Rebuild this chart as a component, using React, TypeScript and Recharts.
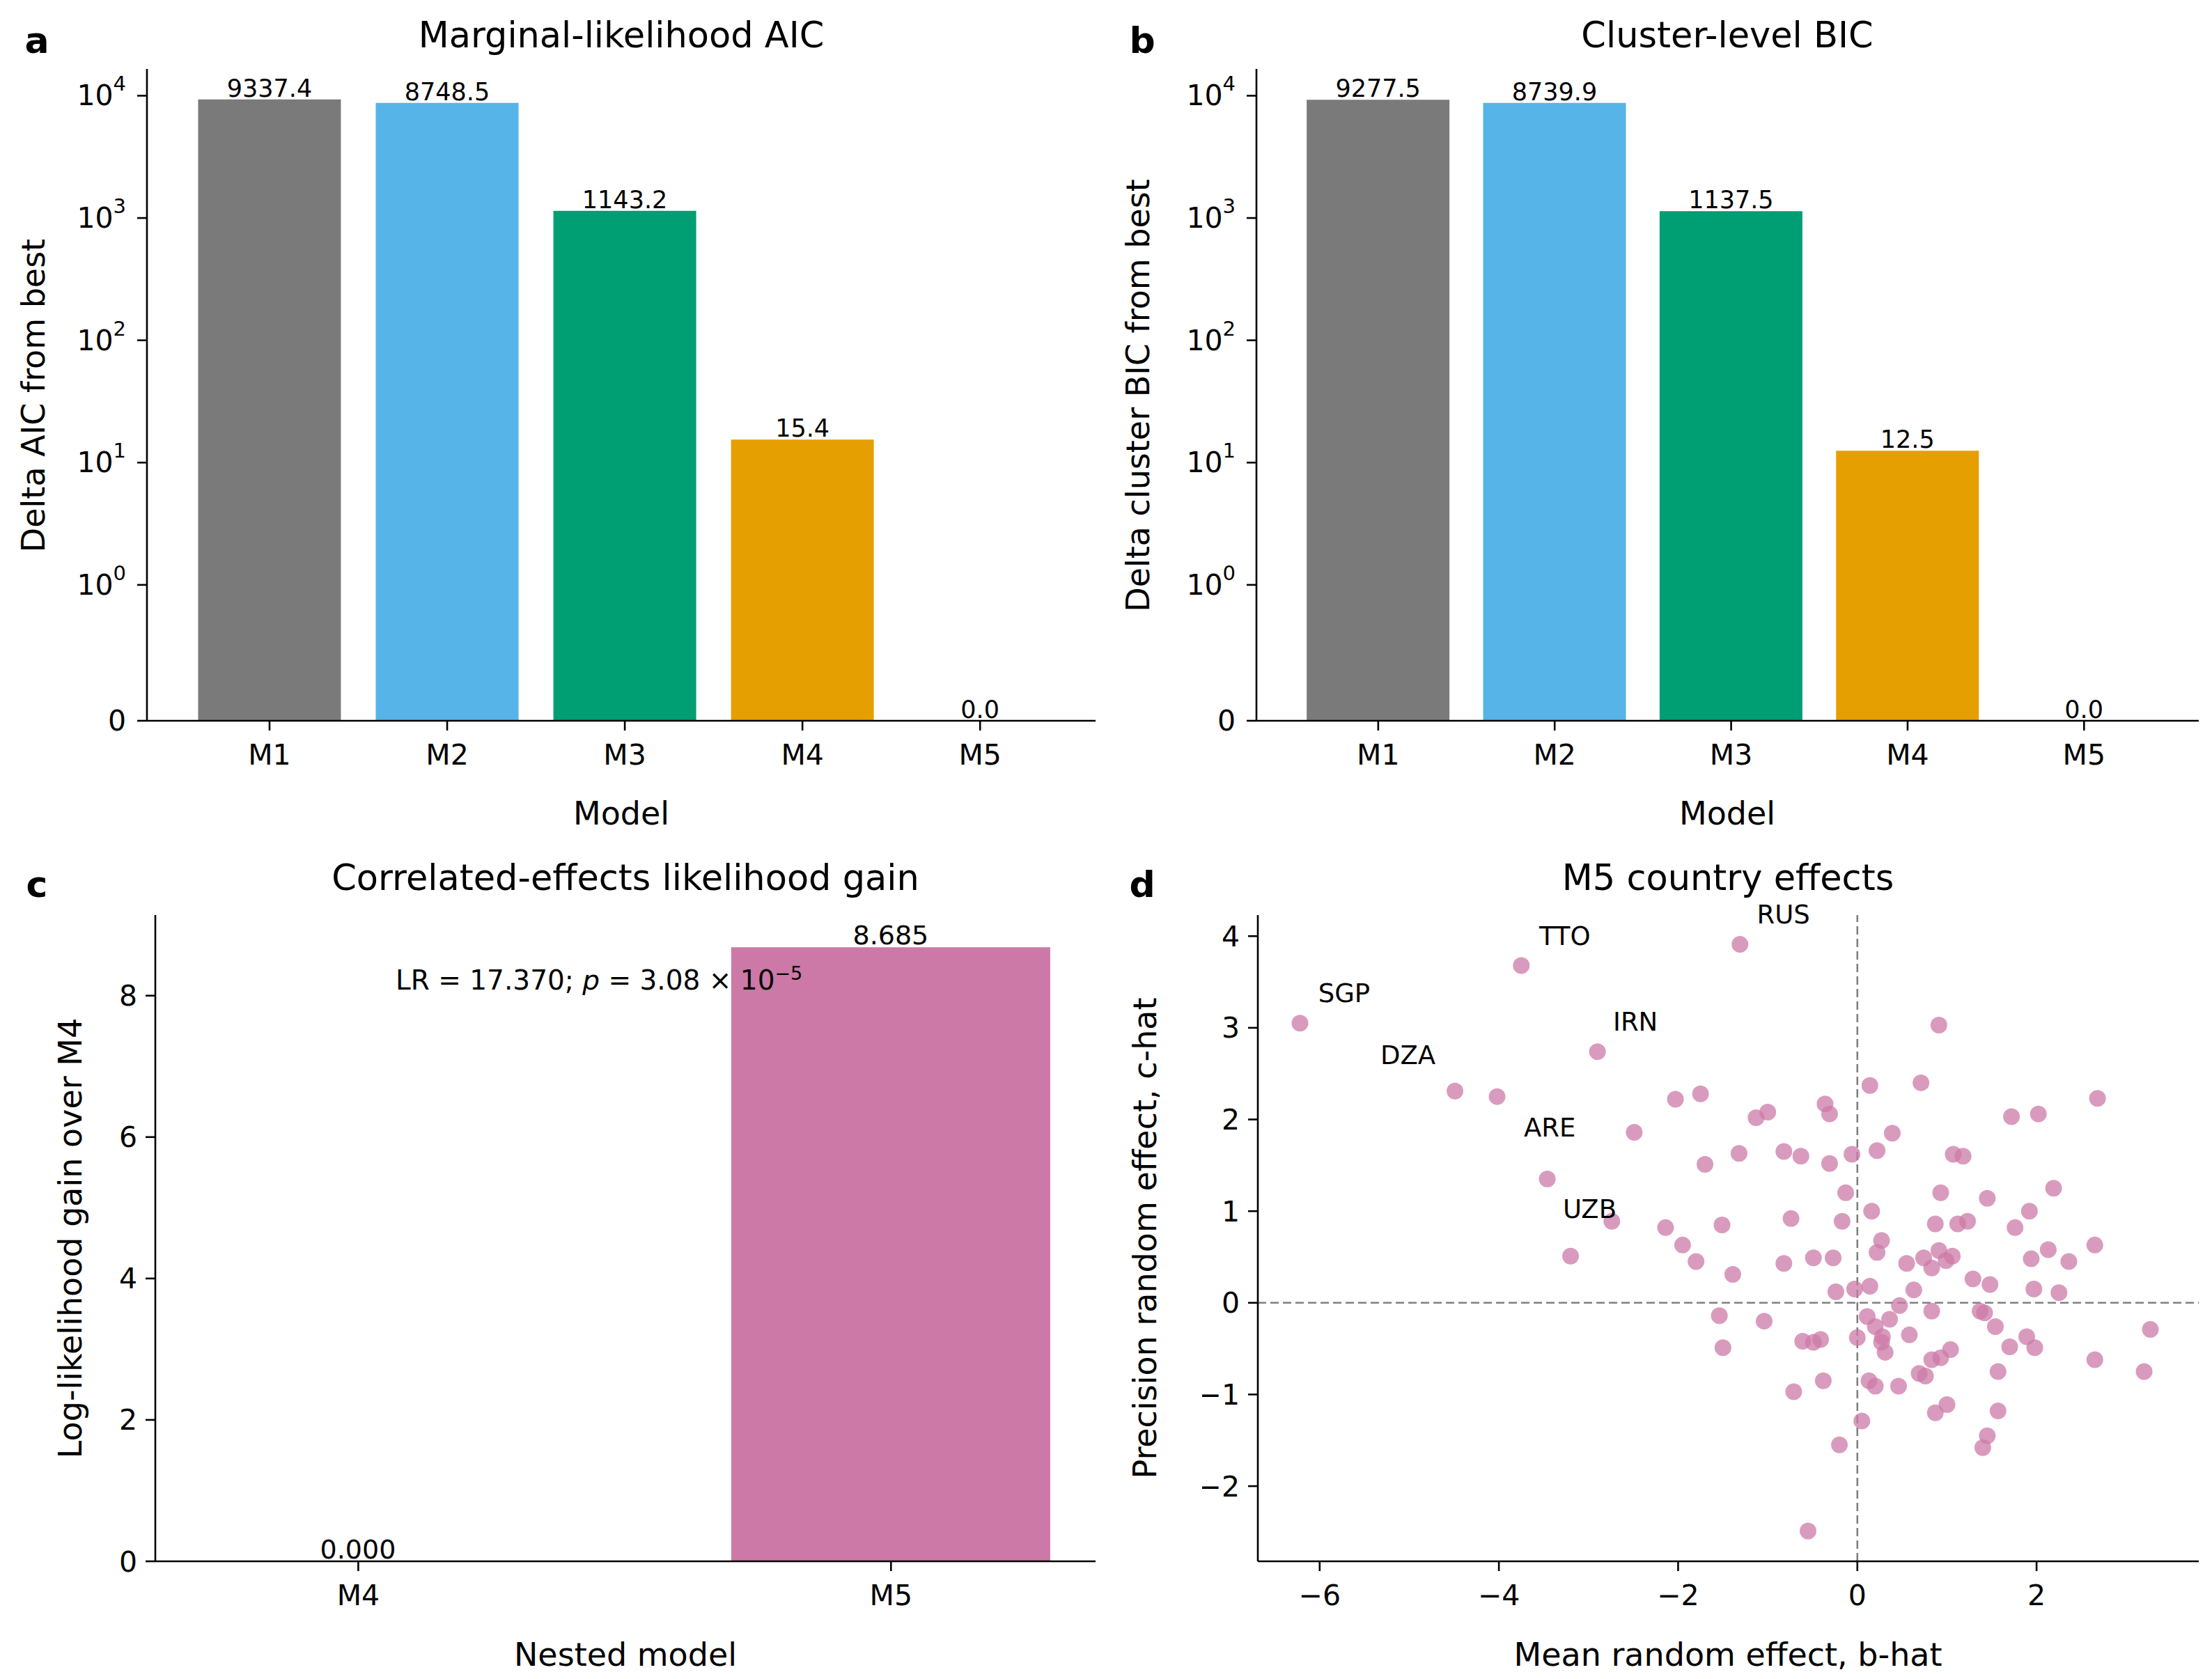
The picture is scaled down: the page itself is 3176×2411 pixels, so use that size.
import React from "react";
import {
  BarChart, Bar, XAxis, YAxis, Cell, LabelList,
  ScatterChart, Scatter, ReferenceLine,
} from "recharts";

const FONT = "DejaVu Sans";
const models = ["M1", "M2", "M3", "M4", "M5"];
const aicValues = [9337.4, 8748.5, 1143.2, 15.4, 0.0];
const bicValues = [9277.5, 8739.9, 1137.5, 12.5, 0.0];
const modelColors = ["#7a7a7a", "#56b4e9", "#009e73", "#e69f00", "#cc79a7"];
const logTicks = [0, 1, 10, 100, 1000, 10000];

const nestedModels = ["M4", "M5"];
const gainValues = [0.0, 8.685];

// [b-hat, c-hat, label]
const countryEffects: [number, number, string?][] = [
  [-6.22, 3.05, "SGP"], [-3.75, 3.68, "TTO"], [-1.31, 3.91, "RUS"], [-2.9, 2.74, "IRN"],
  [-4.49, 2.31, "DZA"], [-4.02, 2.25], [-3.46, 1.35, "ARE"], [-2.74, 0.89],
  [-3.2, 0.51, "UZB"], [-2.49, 1.86], [-2.03, 2.22], [-1.75, 2.28], [-1.7, 1.51],
  [-2.14, 0.82], [-1.95, 0.63], [-1.8, 0.45], [-1.51, 0.85], [-1.54, -0.14],
  [-1.5, -0.49], [-1.39, 0.31], [-1.32, 1.63], [-1.13, 2.02], [-1.0, 2.08],
  [-1.04, -0.2], [-0.82, 1.65], [-0.63, 1.6], [-0.74, 0.92], [-0.82, 0.43],
  [-0.71, -0.97], [-0.61, -0.42], [-0.49, 0.49], [-0.49, -0.43], [-0.41, -0.4],
  [-0.36, 2.17], [-0.31, 1.52], [-0.27, 0.49], [-0.24, 0.12], [-0.2, -1.55],
  [-0.55, -2.49], [-0.38, -0.85], [-0.31, 2.06], [-0.17, 0.89], [-0.13, 1.2],
  [-0.06, 1.62], [-0.03, 0.15], [0.0, -0.38], [0.05, -1.29], [0.14, 2.37],
  [0.16, 1.0], [0.22, 1.66], [0.22, 0.55], [0.27, 0.68], [0.11, -0.15],
  [0.14, 0.18], [0.2, -0.26], [0.13, -0.85], [0.2, -0.91], [0.28, -0.37],
  [0.31, -0.54], [0.36, -0.18], [0.27, -0.43], [0.39, 1.85], [0.47, -0.03],
  [0.46, -0.91], [0.55, 0.43], [0.58, -0.35], [0.63, 0.14], [0.69, -0.77],
  [0.71, 2.4], [0.74, 0.49], [0.76, -0.8], [0.83, -0.09], [0.83, 0.38],
  [0.87, 0.86], [0.83, -0.62], [0.87, -1.2], [0.91, 3.03], [0.93, 1.2],
  [0.91, 0.57], [0.99, 0.46], [0.93, -0.6], [1.0, -1.11], [1.06, 0.51],
  [1.04, -0.51], [1.07, 1.62], [1.18, 1.6], [1.12, 0.86], [1.23, 0.89],
  [1.29, 0.26], [1.37, -0.09], [1.42, -0.11], [1.45, 1.14], [1.48, 0.2],
  [1.45, -1.45], [1.4, -1.58], [1.54, -0.26], [1.57, -0.75], [1.57, -1.18],
  [1.7, -0.48], [1.72, 2.03], [1.76, 0.82], [1.89, -0.37], [1.92, 1.0],
  [1.94, 0.48], [1.97, 0.15], [1.98, -0.49], [2.02, 2.06], [2.13, 0.58],
  [2.19, 1.25], [2.25, 0.11], [2.36, 0.45], [2.65, -0.62], [2.65, 0.63],
  [2.68, 2.23], [3.2, -0.75], [3.27, -0.29],
];

// label placement offsets (px, relative to the point)
const labelOffsets: Record<string, [number, number]> = {
  SGP: [68, -38], TTO: [67, -37], RUS: [67, -38], IRN: [59, -38],
  DZA: [-63, -47], ARE: [8, -69], UZB: [32, -63],
};

// matplotlib-like symlog, linthresh 1, linscale 1
const T = (v: number) => (v <= 1 ? v / 0.9 : 1 / 0.9 + Math.log10(v));

const TICK = 41;
const AX = { stroke: "#000", strokeWidth: 2.6 };
const TL = { stroke: "#000", strokeWidth: 2.6 };
const TICK_STYLE = { fontSize: TICK, fill: "#000", fontFamily: FONT };
const minus = (v: number) => String(v).replace("-", "\u2212");

const XH = 90;
const MT = 50;

function Frame({ left, top, w, h, yW, children }: any) {
  return (
    <div style={{ position: "absolute", left: left - yW, top: top - MT }}>
      {children(w + yW + 20, h + MT + XH)}
    </div>
  );
}

function Txt({ x, y, size, children, rotate, bold, align }: any) {
  return (
    <div
      style={{
        position: "absolute", left: x, top: y, fontSize: size, fontFamily: FONT,
        fontWeight: bold ? "bold" : "normal", whiteSpace: "nowrap",
        transform: `translate(${align === "left" ? "0" : "-50%"}, -50%)${rotate ? " rotate(-90deg)" : ""}`,
      }}
    >
      {children}
    </div>
  );
}

const LogTick = ({ x, y, payload }: any) => {
  const v = logTicks.find((t) => Math.abs(T(t) - payload.value) < 1e-6) ?? 0;
  const n = v === 0 ? null : Math.round(Math.log10(v));
  return (
    <text x={x - 4} y={y} textAnchor="end" dominantBaseline="central" fontSize={TICK} fontFamily={FONT}>
      {n === null ? "0" : (<>10<tspan dy={-17} fontSize={29}>{n}</tspan></>)}
    </text>
  );
};

const xAxisProps = { height: XH, axisLine: AX, tickLine: TL, tickSize: 14, tickMargin: 20, tick: TICK_STYLE };
const yAxisProps = { axisLine: AX, tickLine: TL, tickSize: 14, tickMargin: 12 };

function LogBars({ values, left, top, w, h }: any) {
  const data = values.map((v: number, i: number) => ({ x: i, v: T(v), label: v.toFixed(1) }));
  const yW = 110;
  return (
    <Frame left={left} top={top} w={w} h={h} yW={yW}>
      {(cw: number, ch: number) => (
        <BarChart width={cw} height={ch} data={data} margin={{ top: MT, right: 20, left: 0, bottom: 0 }}>
          <XAxis type="number" dataKey="x" domain={[-0.69, 4.65]} ticks={[0, 1, 2, 3, 4]}
            tickFormatter={(i: number) => models[i]} {...xAxisProps} />
          <YAxis type="number" domain={[0, 5.33]} ticks={logTicks.map(T)} width={yW}
            {...yAxisProps} tick={<LogTick />} />
          <Bar dataKey="v" barSize={205} minPointSize={0.01} isAnimationActive={false}>
            {data.map((_: any, i: number) => <Cell key={i} fill={modelColors[i]} />)}
            <LabelList dataKey="label" position="top" offset={4} fontSize={35} fill="#000" fontFamily={FONT} />
          </Bar>
        </BarChart>
      )}
    </Frame>
  );
}

function GainBars({ left, top, w, h }: any) {
  const data = gainValues.map((v, i) => ({ x: i, v, label: v.toFixed(3) }));
  const yW = 80;
  return (
    <Frame left={left} top={top} w={w} h={h} yW={yW}>
      {(cw: number, ch: number) => (
        <BarChart width={cw} height={ch} data={data} margin={{ top: MT, right: 20, left: 0, bottom: 0 }}>
          <XAxis type="number" dataKey="x" domain={[-0.381, 1.384]} ticks={[0, 1]}
            tickFormatter={(i: number) => nestedModels[i]} {...xAxisProps} />
          <YAxis type="number" domain={[0, 9.14]} ticks={[0, 2, 4, 6, 8]} width={yW}
            {...yAxisProps} tick={TICK_STYLE} />
          <Bar dataKey="v" barSize={458} minPointSize={0.01} fill="#cc79a7" isAnimationActive={false}>
            <LabelList dataKey="label" position="top" offset={4} fontSize={38} fill="#000" fontFamily={FONT} />
          </Bar>
        </BarChart>
      )}
    </Frame>
  );
}

const PointLabel = ({ x, y, value }: any) => {
  if (!value) return null;
  const [dx, dy] = labelOffsets[value] ?? [60, -38];
  return (
    <text x={x + dx} y={y + dy} textAnchor="middle" dominantBaseline="central" fontSize={37} fontFamily={FONT}>
      {value}
    </text>
  );
};

function Effects({ left, top, w, h }: any) {
  const data = countryEffects.map(([b, c, name]) => ({ b, c, name: name ?? "" }));
  const yW = 80;
  return (
    <Frame left={left} top={top} w={w} h={h} yW={yW}>
      {(cw: number, ch: number) => (
        <ScatterChart width={cw} height={ch} margin={{ top: MT, right: 20, left: 0, bottom: 0 }}>
          <XAxis type="number" dataKey="b" domain={[-6.69, 3.81]} ticks={[-6, -4, -2, 0, 2]}
            tickFormatter={minus} allowDataOverflow {...xAxisProps} />
          <YAxis type="number" dataKey="c" domain={[-2.82, 4.23]} ticks={[-2, -1, 0, 1, 2, 3, 4]}
            tickFormatter={minus} width={yW} allowDataOverflow {...yAxisProps} tick={TICK_STYLE} />
          <ReferenceLine x={0} stroke="#808080" strokeWidth={2.6} strokeDasharray="12 6" />
          <ReferenceLine y={0} stroke="#808080" strokeWidth={2.6} strokeDasharray="12 6" />
          <Scatter data={data} fill="#cc79a7" fillOpacity={0.75} isAnimationActive={false}
            shape={(p: any) => <circle cx={p.cx} cy={p.cy} r={12} fill="#cc79a7" fillOpacity={0.75} />}>
            <LabelList dataKey="name" content={<PointLabel />} />
          </Scatter>
        </ScatterChart>
      )}
    </Frame>
  );
}

export default function App() {
  return (
    <div style={{ position: "relative", width: 3176, height: 2411, background: "#fff", fontFamily: FONT }}>
      <LogBars values={aicValues} left={203} top={91} w={1362} h={936} />
      <LogBars values={bicValues} left={1796} top={91} w={1353} h={936} />
      <GainBars left={215} top={1306} w={1350} h={928} />
      <Effects left={1798} top={1306} w={1351} h={928} />

      <Txt x={884} y={42} size={51}>Marginal-likelihood AIC</Txt>
      <Txt x={2472} y={42} size={51}>Cluster-level BIC</Txt>
      <Txt x={890} y={1252} size={51}>Correlated-effects likelihood gain</Txt>
      <Txt x={2473} y={1252} size={51}>M5 country effects</Txt>

      <Txt x={884} y={1160} size={46}>Model</Txt>
      <Txt x={2472} y={1160} size={46}>Model</Txt>
      <Txt x={890} y={2368} size={46}>Nested model</Txt>
      <Txt x={2473} y={2368} size={46}>Mean random effect, b-hat</Txt>

      <Txt x={40} y={560} size={46} rotate>Delta AIC from best</Txt>
      <Txt x={1626} y={560} size={46} rotate>Delta cluster BIC from best</Txt>
      <Txt x={93} y={1770} size={46} rotate>Log-likelihood gain over M4</Txt>
      <Txt x={1636} y={1770} size={46} rotate>Precision random effect, c-hat</Txt>

      <Txt x={45} y={50} size={52} bold>a</Txt>
      <Txt x={1632} y={50} size={52} bold>b</Txt>
      <Txt x={45} y={1262} size={52} bold>c</Txt>
      <Txt x={1632} y={1262} size={52} bold>d</Txt>

      <Txt x={560} y={1398} size={39} align="left">
        LR = 17.370; <i>p</i> = 3.08 × 10<sup style={{ fontSize: 27 }}>−5</sup>
      </Txt>
    </div>
  );
}
